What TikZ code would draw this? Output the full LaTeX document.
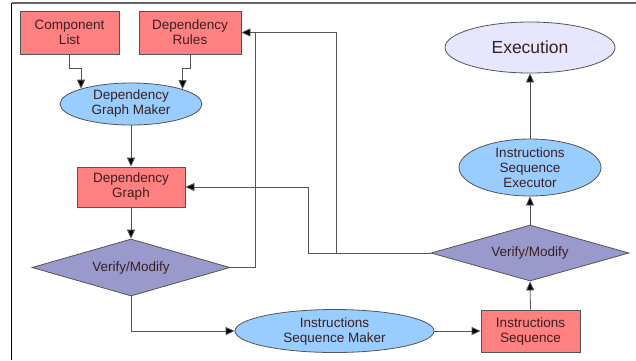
\documentclass[tikz,border=0pt]{standalone}
\usepackage{fontspec}
\setmainfont{Liberation Sans}
\usetikzlibrary{shapes.geometric,arrows.meta}
\definecolor{boxred}{HTML}{FF8080}
\definecolor{procblue}{HTML}{99CCFF}
\definecolor{decpurple}{HTML}{9999CC}
\definecolor{execlav}{HTML}{E6E6FF}
\definecolor{edge}{HTML}{555555}
\definecolor{ink}{HTML}{3B2020}
\tikzset{
  base/.style={draw=edge, line width=0.8pt, inner sep=0pt, text=ink, align=center,
    font=\fontsize{13.5}{15}\selectfont},
  datablock/.style={base, rectangle, fill=boxred},
  process/.style={base, ellipse, fill=procblue},
  decision/.style={base, diamond, aspect=3.5, fill=decpurple},
  goal/.style={base, ellipse, fill=execlav, font=\fontsize{17.5}{20}\selectfont},
  inner/.style={text=ink, align=center, font=\fontsize{13.5}{15}\selectfont},
  flow/.style={draw=edge, line width=0.8pt, -{Triangle[length=9pt,width=8pt,fill=black]}},
  wire/.style={draw=edge, line width=0.8pt}
}
\begin{document}
\begin{tikzpicture}[x=1pt,y=-1pt]
\useasboundingbox (0,0) rectangle (636,360);
% frame edges
\draw[draw=gray!80!black, line width=1.2pt] (11.5,3) -- (636,3);
\draw[draw=black, line width=1.5pt] (11.5,3) -- (11.5,360);

% blocks
\node[datablock, minimum width=99pt, minimum height=43pt] (cl) at (69.5,32.5) {Component\\List};
\node[datablock, minimum width=102pt, minimum height=43pt] (dr) at (190,32.5) {Dependency\\Rules};
\node[process, minimum width=142pt, minimum height=42pt,
  label={[inner]center:Dependency\\Graph Maker}] (dgm) at (131,104) {};
\node[datablock, minimum width=108pt, minimum height=40pt] (dg) at (131,187) {Dependency\\Graph};
\node[decision, minimum width=198pt, minimum height=57pt] (vm1) at (131,267.5) {Verify/Modify};
\node[process, minimum width=199pt, minimum height=43pt,
  label={[inner]center:Instructions\\Sequence Maker}] (ism) at (334.5,331) {};
\node[datablock, minimum width=99pt, minimum height=42pt] (is) at (530.5,331) {Instructions\\Sequence};
\node[decision, minimum width=198pt, minimum height=56pt] (vm2) at (530,253) {Verify/Modify};
\node[process, minimum width=142pt, minimum height=57pt,
  label={[inner]center:Instructions\\Sequence\\Executor}] (ise) at (530,167.5) {};
\node[goal, minimum width=170pt, minimum height=51pt] (ex) at (530,47.5) {Execution};

% bend columns of the feedback lines
\coordinate (busA) at (255,0);
\coordinate (busB) at (336,0);
\coordinate (busC) at (308,0);

% connectors
\draw[flow] (cl.south) -- ++(0,14) -| (dgm.163.4);
\draw[flow] (dr.south) -- ++(0,14) -| (dgm.16.6);
\draw[flow] (dgm.south) -- (dg.north);
\draw[flow] (dg.south) -- (vm1.north);
\draw[flow] (vm1.east) -| (busA |- dr.east) -- (dr.east);
\draw[wire] (vm2.west) -| (busB |- dr.east) -- (busA |- dr.east);
\draw[flow] (vm2.west) -| (busC |- dg.east) -- (dg.east);
\draw[flow] (vm1.south) |- (ism.west);
\draw[flow] (ism.east) -- (is.west);
\draw[flow] (is.north) -- (vm2.south);
\draw[flow] (vm2.north) -- (ise.south);
\draw[flow] (ise.north) -- (ex.south);
\end{tikzpicture}
\end{document}
